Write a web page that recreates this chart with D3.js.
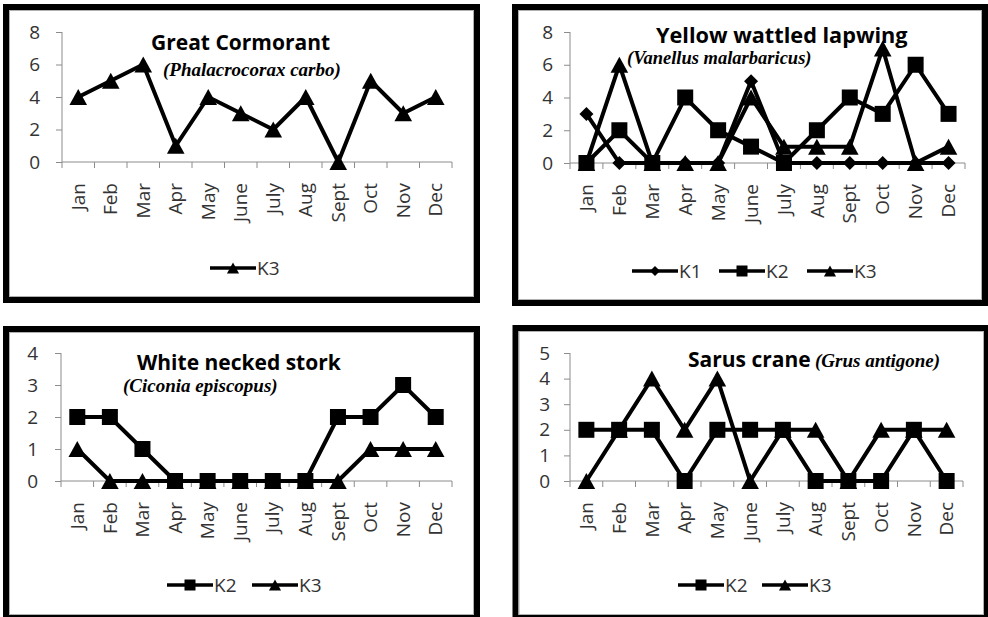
<!DOCTYPE html>
<html><head><meta charset="utf-8">
<script src="https://cdn.jsdelivr.net/npm/d3@7"></script>
<style>body{margin:0;background:#fff}svg{display:block}</style>
</head><body><svg id="c" width="988" height="617"></svg>
<script>
// Monthly counts of four wetland bird species at sites K1–K3
const months = ["Jan","Feb","Mar","Apr","May","June","July","Aug","Sept","Oct","Nov","Dec"];

const cormorantK3 = [4,5,6,1,4,3,2,4,0,5,3,4];

const lapwingK1 = [3,0,0,0,0,5,0,0,0,0,0,0];
const lapwingK2 = [0,2,0,4,2,1,0,2,4,3,6,3];
const lapwingK3 = [0,6,0,0,0,4,1,1,1,7,0,1];

const storkK2 = [2,2,1,0,0,0,0,0,2,2,3,2];
const storkK3 = [1,0,0,0,0,0,0,0,0,1,1,1];

const craneK2 = [2,2,2,0,2,2,2,0,0,0,2,0];
const craneK3 = [0,2,4,2,4,0,2,2,0,2,2,2];

const cormorantTicks = [0,2,4,6,8];
const lapwingTicks = [0,2,4,6,8];
const storkTicks = [0,1,2,3,4];
const craneTicks = [0,1,2,3,4,5];

const svg = d3.select("#c");
const SANS = "'Open Sans', 'Noto Sans', sans-serif";
const SERIF = "'Liberation Serif', 'DejaVu Serif', serif";
const LABEL_SIZE = 19;

// marker shapes, centred on the data point
function marker(g, shape, size) {
  if (shape === "tri") {
    const w = size * 1.1, h = size;
    g.append("path").attr("d", `M0,${-h/2}L${w/2},${h/2}L${-w/2},${h/2}Z`).attr("fill", "#000");
  } else if (shape === "sq") {
    g.append("rect").attr("x", -size/2).attr("y", -size/2).attr("width", size).attr("height", size).attr("fill", "#000");
  } else {
    const r = size / 2;
    g.append("path").attr("d", `M0,${-r}L${r},0L0,${r}L${-r},0Z`).attr("fill", "#000");
  }
}

function frame(x, y, w, h) {
  svg.append("rect").attr("x", x).attr("y", y).attr("width", w).attr("height", h)
    .attr("fill", "#fff").attr("stroke", "#000").attr("stroke-width", 6);
  svg.append("rect").attr("x", x + 3.5).attr("y", y + 3.5).attr("width", w - 7).attr("height", h - 7)
    .attr("fill", "none").attr("stroke", "#b0b0b0").attr("stroke-width", 1);
}

function panel(cfg) {
  frame(...cfg.frame);
  const g = svg.append("g");
  const x = d3.scaleBand().domain(months).range([cfg.x0, cfg.x1]);
  const y = d3.scaleLinear().domain([0, cfg.ticks[cfg.ticks.length - 1]]).range([cfg.y0, cfg.yTop]);

  // y axis
  const ya = g.append("g").attr("transform", `translate(${cfg.x0},0)`)
    .call(d3.axisLeft(y).tickValues(cfg.ticks).tickSize(6).tickPadding(cfg.ylabPad).tickFormat(d3.format("d")));
  ya.select(".domain").attr("stroke", "#8c8c8c").attr("d", `M0,${cfg.yTop}V${cfg.y0}`);
  ya.selectAll(".tick line").attr("stroke", "#8c8c8c");
  ya.selectAll(".tick text").attr("font-family", SANS).attr("font-size", LABEL_SIZE).attr("fill", "#333");

  // x axis with ticks between categories
  const xa = g.append("g").attr("transform", `translate(0,${cfg.y0})`);
  xa.append("line").attr("x1", cfg.x0).attr("x2", cfg.x1).attr("stroke", "#8c8c8c");
  const bounds = months.map(m => x(m)).concat([cfg.x1]);
  xa.selectAll("line.t").data(bounds).join("line").attr("class", "t")
    .attr("x1", d => d).attr("x2", d => d).attr("y1", 0).attr("y2", 6).attr("stroke", "#8c8c8c");
  xa.selectAll("text").data(months).join("text")
    .attr("transform", d => `translate(${x(d) + x.bandwidth()/2},21) rotate(-90)`)
    .attr("text-anchor", "end").attr("dy", "0.35em")
    .attr("font-family", SANS).attr("font-size", LABEL_SIZE).attr("fill", "#333").text(d => d);

  // titles
  cfg.title.forEach(t => {
    g.append("text").attr("x", t.x).attr("y", t.y)
      .attr("font-family", t.serif ? SERIF : SANS).attr("font-weight", "bold")
      .attr("font-style", t.serif ? "italic" : "normal")
      .attr("font-size", t.size).attr("fill", "#000").text(t.text);
  });

  // series
  const line = d3.line().x((d, i) => x(months[i]) + x.bandwidth()/2).y(d => y(d));
  cfg.series.forEach(s => {
    g.append("path").datum(s.values).attr("d", line).attr("fill", "none")
      .attr("stroke", "#000").attr("stroke-width", 4).attr("stroke-linejoin", "miter");
    s.values.forEach((v, i) => {
      const m = g.append("g").attr("transform", `translate(${x(months[i]) + x.bandwidth()/2},${y(v)})`);
      marker(m, s.shape, s.shape === "dia" ? 14 : 16);
    });
  });

  // legend
  cfg.series.forEach((s, i) => {
    const lx = cfg.legend.x[i], ly = cfg.legend.y;
    const lg = g.append("g").attr("transform", `translate(${lx},${ly})`);
    lg.append("line").attr("x1", 0).attr("x2", 46).attr("stroke", "#000").attr("stroke-width", 3.5);
    const m = lg.append("g").attr("transform", "translate(23,0)");
    marker(m, s.shape, s.shape === "tri" ? 11 : (s.shape === "sq" ? 11 : 10));
    lg.append("text").attr("x", 47).attr("dy", "0.36em").attr("font-family", SANS)
      .attr("font-size", LABEL_SIZE).attr("fill", "#333").text(s.name);
  });
}

panel({
  frame: [6, 7, 471, 293], x0: 62, x1: 452, y0: 162, yTop: 32, ticks: cormorantTicks, ylabPad: 16,
  title: [
    {text: "Great Cormorant", x: 151, y: 50, size: 21},
    {text: "(Phalacrocorax carbo)", x: 163, y: 76, size: 19, serif: true}
  ],
  series: [{name: "K3", values: cormorantK3, shape: "tri"}],
  legend: {x: [210], y: 268}
});

panel({
  frame: [515, 7, 470, 296], x0: 570, x1: 965, y0: 163, yTop: 32, ticks: lapwingTicks, ylabPad: 11,
  title: [
    {text: "Yellow wattled lapwing", x: 656, y: 43, size: 21.7},
    {text: "(Vanellus malarbaricus)", x: 627, y: 64, size: 18.5, serif: true}
  ],
  series: [
    {name: "K1", values: lapwingK1, shape: "dia"},
    {name: "K2", values: lapwingK2, shape: "sq"},
    {name: "K3", values: lapwingK3, shape: "tri"}
  ],
  legend: {x: [632, 719, 807], y: 271}
});

panel({
  frame: [6, 329, 471, 289], x0: 61, x1: 452, y0: 481, yTop: 353, ticks: storkTicks, ylabPad: 17,
  title: [
    {text: "White necked stork", x: 137, y: 370, size: 21},
    {text: "(Ciconia episcopus)", x: 123, y: 392, size: 19, serif: true}
  ],
  series: [
    {name: "K2", values: storkK2, shape: "sq"},
    {name: "K3", values: storkK3, shape: "tri"}
  ],
  legend: {x: [167, 252], y: 585}
});

panel({
  frame: [515.5, 328, 471.5, 290], x0: 570, x1: 963, y0: 481, yTop: 353, ticks: craneTicks, ylabPad: 14,
  title: [
    {text: "Sarus crane", x: 688, y: 367, size: 21},
    {text: "(Grus antigone)", x: 815, y: 367, size: 19, serif: true}
  ],
  series: [
    {name: "K2", values: craneK2, shape: "sq"},
    {name: "K3", values: craneK3, shape: "tri"}
  ],
  legend: {x: [678, 762], y: 585}
});
</script></body></html>
